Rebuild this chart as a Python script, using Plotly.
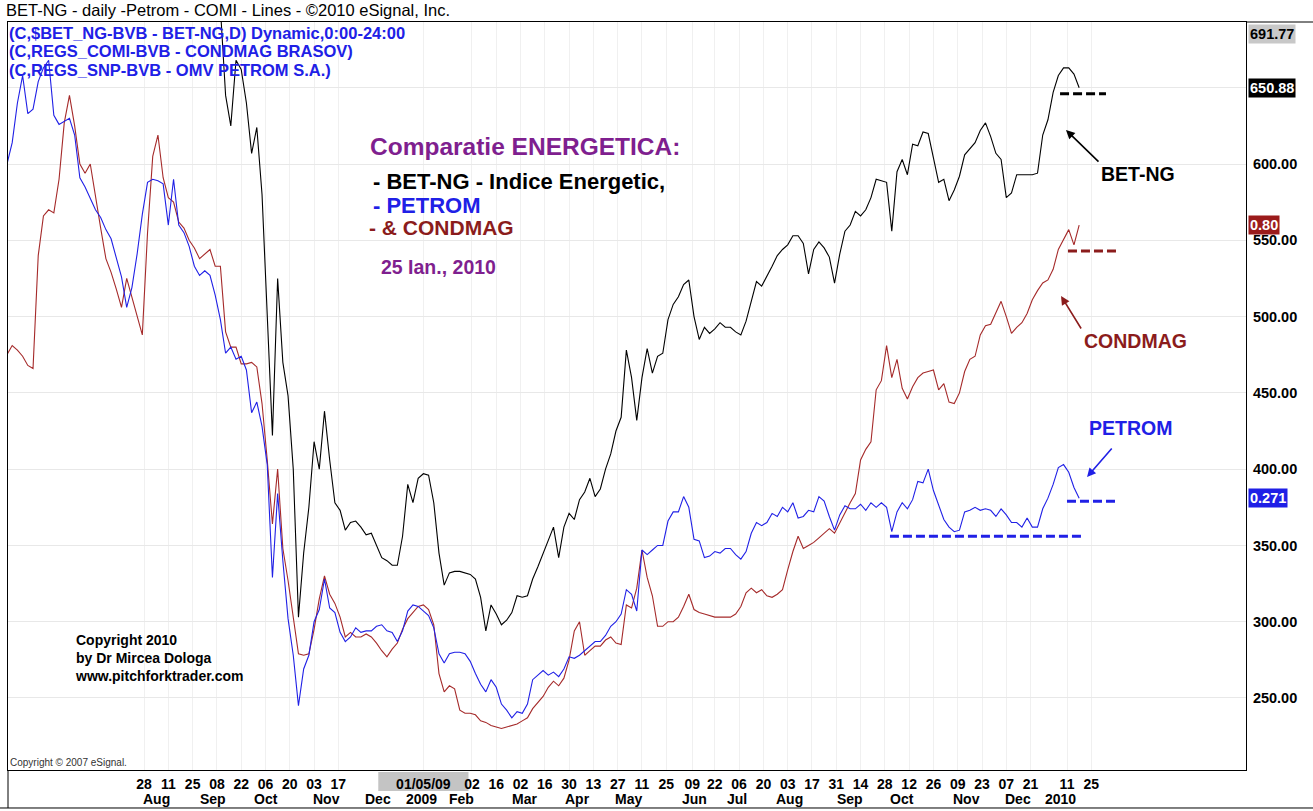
import pandas as pd
import plotly.graph_objects as go

# ---------------- data (values on the BET-NG price scale, read every 3 calendar days) ----------------
petrom = [
    600, 614, 640, 658, 633, 636, 654, 663, 668, 632,
    626, 628, 630, 619, 591, 585, 578, 570, 565, 557,
    551, 538, 526, 506, 519, 541, 567, 588, 590, 589,
    587, 560, 590, 560, 555, 546, 533, 527, 530, 527,
    514, 498, 476, 480, 472, 474, 465, 437, 444, 428,
    403, 329, 384, 340, 302, 278, 245, 269, 278, 300,
    308, 328, 309, 306, 293, 287, 290, 296, 293, 294,
    294, 297, 298, 294, 293, 287, 294, 307, 311, 310,
    307, 304, 296, 279, 273, 279, 280, 280, 279, 274,
    266, 259, 254, 262, 257, 246, 242, 237, 241, 240,
    246, 262, 265, 268, 265, 267, 264, 269, 277, 276,
    278, 281, 284, 287, 287, 291, 297, 300, 305, 321,
    318, 307, 347, 344, 347, 350, 350, 366, 372, 372,
    382, 375, 354, 353, 342, 343, 346, 345, 348, 348,
    344, 341, 346, 358, 365, 363, 365, 371, 369, 375,
    372, 378, 368, 369, 373, 372, 382, 379, 369, 360,
    370, 376, 374, 374, 377, 373, 378, 375, 378, 375,
    359, 372, 378, 374, 380, 392, 391, 400, 386, 377,
    367, 362, 359, 360, 372, 373, 375, 373, 374, 373,
    369, 374, 370, 365, 365, 362, 368, 362, 362, 374,
    381, 390, 401, 403, 398, 388, 381,
]

condmag = [
    475, 481, 478, 474, 468, 466, 540, 566, 570, 568,
    590, 627, 645, 625, 600, 594, 600, 578, 558, 538,
    529, 518, 506, 525, 513, 500, 488, 555, 605, 619,
    591, 578, 575, 562, 558, 550, 545, 538, 541, 544,
    533, 533, 490, 480, 480, 469, 469, 470, 467, 443,
    406, 364, 400, 348, 327, 303, 279, 278, 279, 295,
    315, 330, 318, 312, 303, 290, 293, 290, 290, 292,
    290, 286, 281, 277, 282, 286, 295, 302, 306, 310,
    311, 308, 298, 266, 254, 258, 256, 242, 240, 240,
    239, 235, 234, 232, 231, 230, 231, 232, 233, 235,
    237, 243, 247, 251, 257, 261, 258, 263, 275, 294,
    300, 278, 281, 284, 284, 288, 290, 286, 285, 311,
    309, 322, 347, 329, 317, 297, 297, 300, 300, 303,
    310, 318, 308, 306, 305, 304, 303, 303, 303, 303,
    305, 310, 319, 322, 319, 321, 317, 316, 318, 321,
    334, 346, 356, 348, 350, 352, 355, 358, 361, 358,
    365, 372, 378, 384, 406, 413, 418, 452, 458, 481,
    460, 472, 453, 446, 454, 460, 463, 464, 465, 452,
    456, 444, 443, 450, 464, 472, 474, 488, 494, 495,
    502, 510, 500, 489, 493, 496, 502, 511, 517, 522,
    524, 531, 544, 551, 557, 547, 560,
]

bet_ng = [
    760, 705, 645, 625, 668, 662, 640, 607, 624, 580,
    506, 422, 525, 470, 448, 400, 303, 345, 375, 418,
    400, 438, 406, 378, 373, 360, 365, 366, 362, 357,
    358, 350, 342, 340, 337, 337, 356, 390, 378, 394,
    397, 396, 378, 345, 324, 332, 333, 333, 332, 331,
    328, 316, 294, 311, 305, 298, 301, 306, 317, 316,
    317, 328, 336, 345, 354, 362, 342, 362, 371, 367,
    380, 385, 394, 382, 387, 400, 410, 425, 434, 478,
    460, 432, 460, 479, 463, 474, 476, 498, 508, 513,
    521, 524, 500, 485, 493, 489, 492, 496, 493, 493,
    490, 488, 497, 511, 523, 520, 526, 533, 540, 544,
    547, 553, 553, 548, 528, 544, 549, 545, 539, 522,
    541, 556, 560, 569, 566, 570, 578, 590, 589, 588,
    556, 595, 603, 593, 613, 612, 621, 620, 604, 588,
    590, 576, 583, 592, 606, 610, 614, 622, 627, 618,
    607, 603, 578, 581, 593, 593, 593, 593, 594, 619,
    629, 647, 658, 663, 663, 659, 650,
]

first_date = "2008-05-10"
bet_first_date = "2008-09-07"
sample_step = "3D"

tick_dates = [
    "2008-07-28", "2008-08-11", "2008-08-25", "2008-09-08", "2008-09-22",
    "2008-10-06", "2008-10-20", "2008-11-03", "2008-11-17", "2009-01-05",
    "2009-02-02", "2009-02-16", "2009-03-02", "2009-03-16", "2009-03-30",
    "2009-04-13", "2009-04-27", "2009-05-11", "2009-05-25", "2009-06-09",
    "2009-06-22", "2009-07-06", "2009-07-20", "2009-08-03", "2009-08-17",
    "2009-08-31", "2009-09-14", "2009-09-28", "2009-10-12", "2009-10-26",
    "2009-11-09", "2009-11-23", "2009-12-07", "2009-12-21", "2010-01-11",
    "2010-01-25",
]
tick_labels = [
    "28", "11", "25", "08", "22", "06", "20", "03", "17", "01/05/09",
    "02", "16", "02", "16", "30", "13", "27", "11", "25", "09",
    "22", "06", "20", "03", "17", "31", "14", "28", "12", "26",
    "09", "23", "07", "21", "11", "25",
]
month_dates = [
    "2008-08-04", "2008-09-06", "2008-10-06", "2008-11-10", "2008-12-10",
    "2009-01-04", "2009-01-27", "2009-03-04", "2009-04-04", "2009-05-03",
    "2009-06-10", "2009-07-05", "2009-08-04", "2009-09-08", "2009-10-08",
    "2009-11-14", "2009-12-14", "2010-01-07",
]
month_labels = [
    "Aug", "Sep", "Oct", "Nov", "Dec", "2009", "Feb", "Mar", "Apr", "May",
    "Jun", "Jul", "Aug", "Sep", "Oct", "Nov", "Dec", "2010",
]
price_ticks = [250, 300, 350, 400, 450, 500, 550, 600, 650]
price_labels = ["250.00", "300.00", "350.00", "400.00", "450.00", "500.00", "550.00", "600.00", ""]

# drawn horizontal levels
bet_level = 646
condmag_level = 543
petrom_level = 379
petrom_support = 356

top_value = 691.77
bet_tag, condmag_tag, petrom_tag = "650.88", "0.80", "0.271"

# ---------------- figure ----------------
FONT = "Liberation Sans, Arial, sans-serif"
BLACK = "#000000"
RED = "#a52a2a"
BLUE = "#2020e6"
PURPLE = "#7f1f8f"
DKRED = "#8b1c1c"

dates = pd.date_range(first_date, periods=len(petrom), freq=sample_step)
bet_dates = pd.date_range(bet_first_date, periods=len(bet_ng), freq=sample_step)

fig = go.Figure()
fig.add_trace(go.Scatter(x=dates, y=condmag, mode="lines", name="CONDMAG",
                         line=dict(color=RED, width=1.1)))
fig.add_trace(go.Scatter(x=dates, y=petrom, mode="lines", name="PETROM",
                         line=dict(color=BLUE, width=1.1)))
fig.add_trace(go.Scatter(x=bet_dates, y=bet_ng, mode="lines", name="BET-NG",
                         line=dict(color=BLACK, width=1.1)))

fig.update_layout(
    width=1313, height=811, autosize=False,
    margin=dict(l=8, r=67, t=22, b=41),
    paper_bgcolor="white", plot_bgcolor="white",
    showlegend=False,
    font=dict(family=FONT, color="black"),
    xaxis=dict(
        type="date",
        range=["2008-05-10 13:50", "2010-04-24 04:00"],
        tickvals=tick_dates, ticktext=tick_labels,
        tickangle=0,
        tickfont=dict(size=14, weight="bold", color="black"),
        showgrid=True, gridcolor="#f0f0f0", gridwidth=1,
        showline=True, linecolor="black", linewidth=1, mirror=True,
        ticks="", zeroline=False, ticklabelstandoff=1,
    ),
    yaxis=dict(
        side="right",
        range=[202.8, 693.1],
        tickvals=price_ticks, ticktext=price_labels,
        tickfont=dict(size=14.5, weight="bold", color="black"),
        showgrid=True, gridcolor="#e8e8e8", gridwidth=1,
        showline=True, linecolor="black", linewidth=1, mirror=True,
        ticks="", zeroline=False, ticklabelstandoff=3,
    ),
)

shapes = []
# dashed levels
for x0, x1, lvl, col in [
    (0.8498, 0.8869, bet_level, BLACK),
    (0.8562, 0.8966, condmag_level, DKRED),
    (0.8554, 0.8958, petrom_level, BLUE),
    (0.7124, 0.8667, petrom_support, BLUE),
]:
    shapes.append(dict(type="line", xref="paper", yref="y", x0=x0, x1=x1, y0=lvl, y1=lvl,
                       line=dict(color=col, width=3, dash="9px,4px")))
# gray box behind 01/05/09 label
shapes.append(dict(type="rect", xref="x", yref="paper", x0="2008-12-10", x1="2009-01-31",
                   y0=-0.0280, y1=-0.0027, fillcolor="#c4c4c4", line=dict(width=0), layer="below"))
# outer frame pieces
shapes.append(dict(type="line", xref="paper", yref="paper", x0=1.0, x1=1.06, y0=1, y1=1,
                   line=dict(color="black", width=1)))
shapes.append(dict(type="line", xref="paper", yref="paper", x0=-0.01, x1=1.06, y0=-0.0508, y1=-0.0508,
                   line=dict(color="black", width=1)))
shapes.append(dict(type="line", xref="paper", yref="paper", x0=0, x1=0, y0=-0.0508, y1=0,
                   line=dict(color="black", width=1)))
fig.update_layout(shapes=shapes)

ann = []
def txt(text, x, y, size, color, xanchor="left", yanchor="middle", bold=True, **kw):
    ann.append(dict(text=(f"<b>{text}</b>" if bold else text), x=x, y=y, xref="paper", yref="paper",
                    showarrow=False, xanchor=xanchor, yanchor=yanchor,
                    font=dict(size=size, color=color, family=FONT), **kw))

# header
txt("BET-NG - daily -Petrom - COMI - Lines - ©2010 eSignal, Inc.", -0.0032, 1.0160, 16.5, BLACK, bold=False)
txt("(C,$BET_NG-BVB - BET-NG,D) Dynamic,0:00-24:00", -0.0008, 0.9853, 16.5, BLUE)
txt("(C,REGS_COMI-BVB - CONDMAG BRASOV)", -0.0008, 0.9612, 16.5, BLUE)
txt("(C,REGS_SNP-BVB - OMV PETROM S.A.)", -0.0008, 0.9358, 16.5, BLUE)

# central legend text
txt("Comparatie ENERGETICA:", 0.2908, 0.8342, 24.5, PURPLE)
txt("- BET-NG - Indice Energetic,", 0.2932, 0.7874, 22, BLACK)
txt("- PETROM", 0.2932, 0.7553, 22, BLUE)
txt("- & CONDMAG", 0.2900, 0.7246, 21, DKRED)
txt("25 Ian., 2010", 0.2997, 0.6725, 19.5, PURPLE)

# right labels
txt("BET-NG", 0.9128, 0.7968, 19.5, BLACK, xanchor="center")
txt("CONDMAG", 0.9111, 0.5735, 19.5, DKRED, xanchor="center")
txt("PETROM", 0.9071, 0.4572, 19.5, BLUE, xanchor="center")

# copyright
txt("Copyright 2010<br>by Dr Mircea Dologa<br>www.pitchforktrader.com", 0.0525, 0.1870, 14, BLACK,
    yanchor="top", align="left")
txt("Copyright © 2007 eSignal.", 0.0000, 0.0094, 10, "#333333", bold=False)

# arrows
for hx, hy, ax, ay, col in [
    (0.8546, 0.8556, 34, 33, BLACK),
    (0.8506, 0.6337, 21, 34, DKRED),
    (0.8716, 0.3917, 26, -30, BLUE),
]:
    ann.append(dict(text="", x=hx, y=hy, xref="paper", yref="paper", ax=ax, ay=ay,
                    showarrow=True, arrowhead=2, arrowsize=1.1, arrowwidth=1.6, arrowcolor=col))

# month labels
for d, m in zip(month_dates, month_labels):
    ann.append(dict(text=f"<b>{m}</b>", x=d, y=-0.0390, xref="x", yref="paper", showarrow=False,
                    xanchor="center", yanchor="middle", font=dict(size=14, color="black", family=FONT)))

# value tags on the right axis
def tag(text, y, bg, fg, yanchor="middle"):
    ann.append(dict(text=f"<b>{text}</b>", x=1.0, y=y, xref="paper", yref="y", xshift=2,
                    showarrow=False, xanchor="left", yanchor=yanchor, bgcolor=bg, borderpad=1,
                    font=dict(size=14.5, color=fg, family=FONT)))

tag(f"{top_value:.2f}", top_value, "#c8c8c8", "black", yanchor="top")
tag(bet_tag, bet_ng[-1], "black", "white")
tag(condmag_tag, condmag[-1], "#9b1b1b", "white")
tag(petrom_tag, petrom[-1], "#1f1fe6", "white")

fig.update_layout(annotations=ann)

fig.write_html("out.html", config={"displayModeBar": False},
               post_script="document.body.style.margin='0px';")
